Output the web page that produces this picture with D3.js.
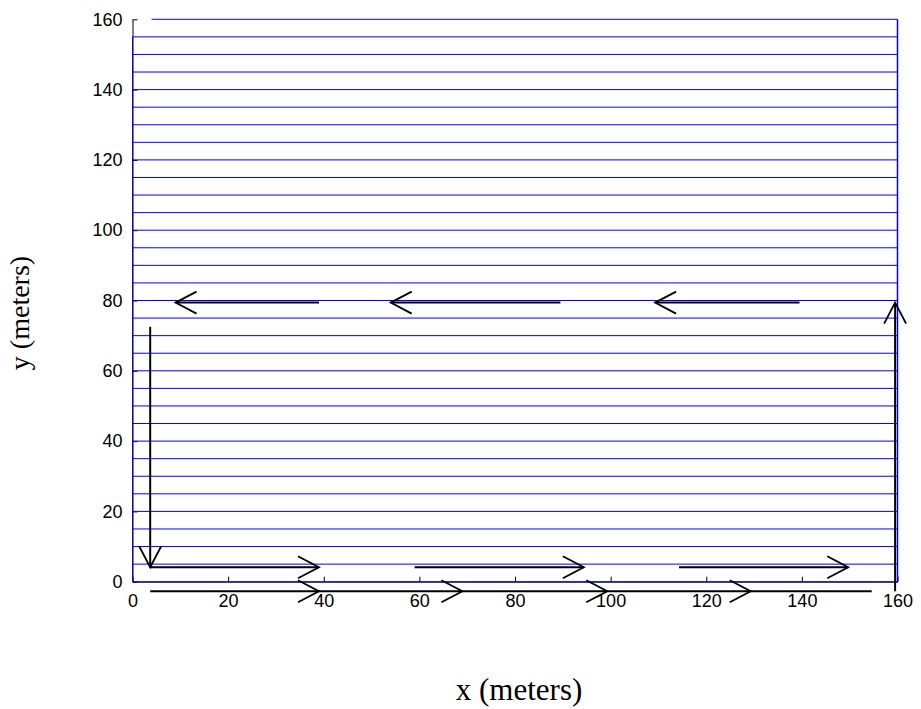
<!DOCTYPE html>
<html>
<head>
<meta charset="utf-8">
<script src="https://cdn.jsdelivr.net/npm/d3@7"></script>
<style>
  body { margin: 0; background: #fff; }
</style>
</head>
<body>
<div id="chart"></div>
<script>
// axis ticks
const xTicks = [0, 20, 40, 60, 80, 100, 120, 140, 160];
const yTicks = [0, 20, 40, 60, 80, 100, 120, 140, 160];

// blue sweep lines (y in meters); the top one starts a bit in from the left
const sweepY = [0, 5, 10, 15, 20, 25, 30, 35, 40, 45, 50, 55, 60, 65, 70, 75, 80,
  85, 90, 95, 100, 105, 110, 115, 120, 125, 130, 135, 140, 145, 150, 155, 160];
const sweepStartX = [0, 0, 0, 0, 0, 0, 0, 0, 0, 0, 0, 0, 0, 0, 0, 0, 0,
  0, 0, 0, 0, 0, 0, 0, 0, 0, 0, 0, 0, 0, 0, 0, 4];
const leftEdgeTop = 155;
const rightEdgeTop = 160;

// black arrows: [fromX, fromY, toX, toY]
const arrows = [
  [3.7, 72.5, 3.7, 4.1],
  [3.7, 4.1, 39, 4.1],
  [59, 4.1, 94.4, 4.1],
  [114.3, 4.1, 149.7, 4.1],
  [159.5, -2.7, 159.5, 79.4],
  [39, 79.4, 9, 79.4],
  [89.5, 79.4, 54, 79.4],
  [139.5, 79.4, 109.3, 79.4]
];

// return line under the axis, with chevrons along it
const returnLine = [3.7, 154.6];
const returnY = -2.7;
const returnHeads = [39, 69, 99.3, 129.3];

const W = 921, H = 709;
const svg = d3.select('#chart').append('svg')
  .attr('width', W)
  .attr('height', H);

const x = d3.scaleLinear().domain([0, 160]).range([132.5, 897.5]);
const y = d3.scaleLinear().domain([0, 160]).range([581.7, 19.3]);

// axes (ticks point inward)
const xAxis = d3.axisBottom(x).tickValues(xTicks).tickSizeInner(-5).tickSizeOuter(0).tickPadding(13);
const yAxis = d3.axisLeft(y).tickValues(yTicks).tickSizeInner(-5).tickSizeOuter(0).tickPadding(10);

const gx = svg.append('g').attr('transform', `translate(0, ${y(0)})`).call(xAxis);
const gy = svg.append('g').attr('transform', `translate(${x(0)}, 0)`).call(yAxis);
[gx, gy].forEach(g => {
  g.selectAll('text')
    .style('font-family', '"Liberation Sans", Arial, sans-serif')
    .style('font-size', '18px')
    .attr('fill', '#000');
  g.selectAll('line, path').attr('stroke', '#000');
});

// blue lines
const blue = svg.append('g').attr('stroke', '#0000ff').attr('stroke-width', 1).attr('fill', 'none');
blue.selectAll('line.h')
  .data(sweepY)
  .join('line')
  .attr('class', 'h')
  .attr('x1', (d, i) => x(sweepStartX[i]))
  .attr('x2', x(160))
  .attr('y1', d => y(d))
  .attr('y2', d => y(d));
blue.append('line')
  .attr('x1', x(0)).attr('x2', x(0))
  .attr('y1', y(0)).attr('y2', y(leftEdgeTop));
blue.append('line')
  .attr('x1', x(160)).attr('x2', x(160))
  .attr('y1', y(0)).attr('y2', y(rightEdgeTop))
  .attr('stroke-width', 1.5);

// arrow heads: open chevron at the tip, fixed pixel size
const headLen = 21, headHalf = 11;
function chevron(tx, ty, dx, dy) {
  const n = Math.hypot(dx, dy);
  const ux = dx / n, uy = dy / n;
  const bx = tx - ux * headLen, by = ty - uy * headLen;
  return `M${bx - uy * headHalf},${by + ux * headHalf}L${tx},${ty}L${bx + uy * headHalf},${by - ux * headHalf}`;
}

const blk = svg.append('g').attr('stroke', '#000').attr('fill', 'none');
blk.selectAll('line.shaft')
  .data(arrows)
  .join('line')
  .attr('class', 'shaft')
  .attr('stroke-width', 2)
  .attr('x1', d => x(d[0])).attr('y1', d => y(d[1]))
  .attr('x2', d => x(d[2])).attr('y2', d => y(d[3]));
blk.selectAll('path.head')
  .data(arrows)
  .join('path')
  .attr('class', 'head')
  .attr('stroke-width', 1.8)
  .attr('d', d => chevron(x(d[2]), y(d[3]), x(d[2]) - x(d[0]), y(d[3]) - y(d[1])));

blk.append('line')
  .attr('stroke-width', 2)
  .attr('x1', x(returnLine[0])).attr('x2', x(returnLine[1]))
  .attr('y1', y(returnY)).attr('y2', y(returnY));
blk.selectAll('path.rhead')
  .data(returnHeads)
  .join('path')
  .attr('class', 'rhead')
  .attr('stroke-width', 1.8)
  .attr('d', d => chevron(x(d), y(returnY), 1, 0));

// axis titles
svg.append('text')
  .attr('x', 519)
  .attr('y', 700)
  .attr('text-anchor', 'middle')
  .style('font-family', '"Liberation Serif", "Times New Roman", serif')
  .style('font-size', '31px')
  .text('x (meters)');
svg.append('text')
  .attr('transform', 'translate(29, 313) rotate(-90)')
  .attr('text-anchor', 'middle')
  .style('font-family', '"Liberation Serif", "Times New Roman", serif')
  .style('font-size', '28px')
  .text('y (meters)');
</script>
</body>
</html>
